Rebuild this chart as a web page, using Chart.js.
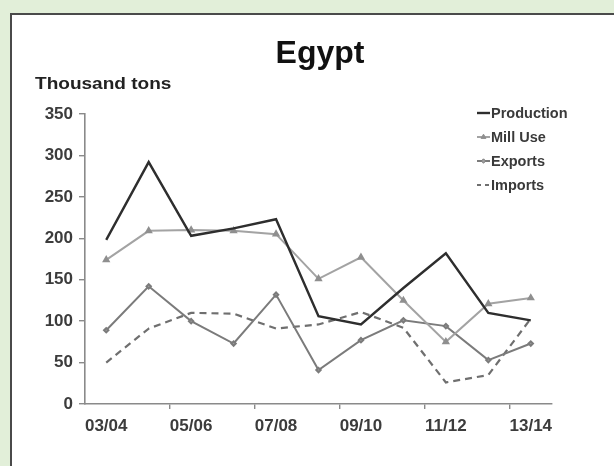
<!DOCTYPE html>
<html>
<head>
<meta charset="utf-8">
<script src="https://cdn.jsdelivr.net/npm/chart.js@4.4.1/dist/chart.umd.min.js"></script>
<style>
  html, body { margin: 0; padding: 0; background: #e2efd9; }
  #wrap { width: 614px; height: 466px; position: relative; }
  canvas { display: block; }
</style>
</head>
<body>
<div id="wrap"><canvas id="c" width="614" height="466"></canvas></div>
<script>
// Marketing years on the category axis
const seasons = ['03/04', '04/05', '05/06', '06/07', '07/08', '08/09', '09/10', '10/11', '11/12', '12/13', '13/14'];

// Thousand tons
const production = [198, 292, 203, 212, 223, 106, 96, 140, 182, 110, 101];
const millUse    = [174, 209, 210, 209, 205, 151, 177, 125, 75, 121, 128];
const exportsT   = [89, 142, 100, 73, 132, 41, 77, 101, 94, 53, 73];
const importsT   = [50, 91, 110, 109, 91, 96, 111, 92, 26, 35, 103];

const yTicks = [0, 50, 100, 150, 200, 250, 300, 350];

const FONT = 'Arial, "Liberation Sans", sans-serif';

// Page frame, heading, unit label and the line legend
const decor = {
  id: 'decor',
  beforeDraw(chart) {
    const ctx = chart.ctx;
    ctx.save();
    ctx.fillStyle = '#e2efd9';
    ctx.fillRect(0, 0, chart.width, chart.height);
    ctx.fillStyle = '#ffffff';
    ctx.fillRect(10, 13, chart.width - 10, chart.height - 13);
    ctx.strokeStyle = '#4a4a4a';
    ctx.lineWidth = 2;
    ctx.beginPath();
    ctx.moveTo(11, chart.height);
    ctx.lineTo(11, 14);
    ctx.lineTo(chart.width, 14);
    ctx.stroke();
    ctx.restore();
  },
  afterDraw(chart) {
    const ctx = chart.ctx;
    ctx.save();
    ctx.fillStyle = '#111111';
    ctx.font = 'bold 32px ' + FONT;
    ctx.textAlign = 'center';
    ctx.textBaseline = 'alphabetic';
    ctx.fillText('Egypt', 320, 63);

    // unit label, set slightly wide
    ctx.save();
    ctx.translate(35, 89);
    ctx.scale(1.12, 1);
    ctx.font = 'bold 17px ' + FONT;
    ctx.textAlign = 'left';
    ctx.fillStyle = '#222222';
    ctx.fillText('Thousand tons', 0, 0);
    ctx.restore();

    // legend
    const x0 = 477, x1 = 490, rowY = [113, 137, 161, 185];
    ctx.font = 'bold 14.5px ' + FONT;
    ctx.textAlign = 'left';
    ctx.textBaseline = 'middle';
    chart.data.datasets.forEach((ds, i) => {
      const y = rowY[i];
      ctx.save();
      ctx.strokeStyle = ds.borderColor;
      ctx.lineWidth = ds.borderWidth;
      ctx.setLineDash(ds.borderDash ? [4, 4] : []);
      ctx.beginPath();
      ctx.moveTo(x0, y);
      ctx.lineTo(x1, y);
      ctx.stroke();
      ctx.restore();
      if (ds.pointRadius > 0) {
        ctx.save();
        ctx.fillStyle = ds.backgroundColor;
        ctx.strokeStyle = ds.pointBorderColor;
        Chart.helpers.drawPoint(ctx, {
          pointStyle: ds.pointStyle,
          radius: ds.pointRadius,
          rotation: 0,
          borderWidth: 1
        }, (x0 + x1) / 2, y);
        ctx.restore();
      }
      ctx.fillStyle = '#3a3a3a';
      ctx.fillText(ds.label, x1 + 1, y + 0.5);
    });
    ctx.restore();
  }
};

new Chart(document.getElementById('c'), {
  type: 'line',
  data: {
    labels: seasons,
    datasets: [
      {
        label: 'Production',
        data: production,
        borderColor: '#2e2e2e',
        borderWidth: 2.4,
        pointRadius: 0,
        tension: 0
      },
      {
        label: 'Mill Use',
        data: millUse,
        borderColor: '#a3a3a3',
        backgroundColor: '#8f8f8f',
        pointBorderColor: '#8f8f8f',
        borderWidth: 2,
        pointStyle: 'triangle',
        pointRadius: 2.8,
        tension: 0
      },
      {
        label: 'Exports',
        data: exportsT,
        borderColor: '#7b7b7b',
        backgroundColor: '#a0a0a0',
        pointBorderColor: '#7b7b7b',
        borderWidth: 2,
        pointStyle: 'rectRot',
        pointRadius: 2.2,
        tension: 0
      },
      {
        label: 'Imports',
        data: importsT,
        borderColor: '#6f6f6f',
        borderWidth: 2.2,
        borderDash: [7, 5],
        pointRadius: 0,
        tension: 0
      }
    ]
  },
  options: {
    responsive: false,
    animation: false,
    layout: { padding: { left: 0, top: 114, right: 62, bottom: 0 } },
    plugins: {
      legend: { display: false },
      title: { display: false },
      tooltip: { enabled: false }
    },
    scales: {
      x: {
        offset: true,
        afterFit(scale) { scale.height = 62; },
        border: { display: true, color: '#8a8a8a', width: 1.6 },
        grid: {
          drawOnChartArea: false,
          offset: true,
          tickLength: 5,
          lineWidth: 1.4,
          color(ctx) {
            return (ctx.type === 'tick' && ctx.index > 0 && ctx.index % 2 === 0) ? '#8a8a8a' : 'rgba(0,0,0,0)';
          }
        },
        ticks: {
          autoSkip: false,
          maxRotation: 0,
          padding: 7,
          color: '#3c3c3c',
          font: { family: FONT, size: 17, weight: 'bold' },
          callback(value, index) { return index % 2 === 0 ? seasons[index] : ''; }
        }
      },
      y: {
        min: 0,
        max: 350,
        afterFit(scale) { scale.width = 85; },
        afterBuildTicks(scale) { scale.ticks = yTicks.map(v => ({ value: v })); },
        border: { display: true, color: '#8a8a8a', width: 1.6 },
        grid: {
          drawOnChartArea: false,
          tickLength: 6,
          lineWidth: 1.4,
          color: '#8a8a8a'
        },
        ticks: {
          padding: 6,
          color: '#3c3c3c',
          font: { family: FONT, size: 17, weight: 'bold' }
        }
      }
    }
  },
  plugins: [decor]
});
</script>
</body>
</html>
